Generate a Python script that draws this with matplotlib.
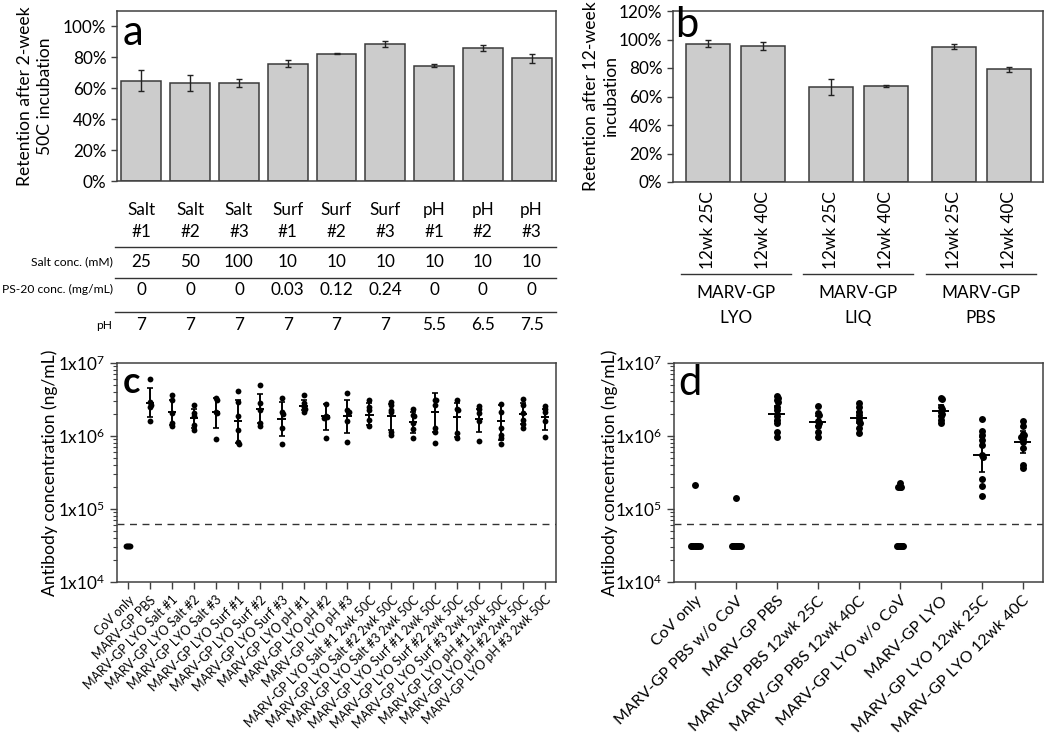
import matplotlib
matplotlib.use("Agg")
import matplotlib.pyplot as plt
import matplotlib.transforms as mtrans
import numpy as np

plt.rcParams['font.family'] = ['Lato', 'DejaVu Sans']
plt.rcParams['mathtext.fontset'] = 'custom'
plt.rcParams['mathtext.rm'] = 'Lato'
plt.rcParams['mathtext.it'] = 'Lato:italic'
plt.rcParams['axes.edgecolor'] = '#404040'
plt.rcParams['axes.linewidth'] = 1.1

# ---------------- panel a data ----------------
a_names = ["Salt", "Salt", "Salt", "Surf", "Surf", "Surf", "pH", "pH", "pH"]
a_nums = ["#1", "#2", "#3", "#1", "#2", "#3", "#1", "#2", "#3"]
a_ret = [65, 63.5, 63.5, 76, 82.5, 88.5, 74.5, 86, 79.5]
a_err = [7, 5, 2.5, 2.5, 0.5, 2, 1, 2, 3]
a_rows = ["Salt conc. (mM)", "PS-20 conc. (mg/mL)", "pH"]
a_salt = ["25", "50", "100", "10", "10", "10", "10", "10", "10"]
a_ps20 = ["0", "0", "0", "0.03", "0.12", "0.24", "0", "0", "0"]
a_ph = ["7", "7", "7", "7", "7", "7", "5.5", "6.5", "7.5"]

# ---------------- panel b data ----------------
b_labels = ["12wk 25C", "12wk 40C", "12wk 25C", "12wk 40C", "12wk 25C", "12wk 40C"]
b_ret = [97, 95.5, 66.5, 67.5, 95, 79]
b_err = [2.5, 3, 5.5, 0.5, 1.5, 2]
b_groups = ["LYO", "LIQ", "PBS"]

# ---------------- panel c data (ng/mL) ----------------
c_labels = ["CoV only", "MARV-GP PBS",
            "MARV-GP LYO Salt #1", "MARV-GP LYO Salt #2", "MARV-GP LYO Salt #3",
            "MARV-GP LYO Surf #1", "MARV-GP LYO Surf #2", "MARV-GP LYO Surf #3",
            "MARV-GP LYO pH #1", "MARV-GP LYO pH #2", "MARV-GP LYO pH #3",
            "MARV-GP LYO Salt #1 2wk 50C", "MARV-GP LYO Salt #2 2wk 50C", "MARV-GP LYO Salt #3 2wk 50C",
            "MARV-GP LYO Surf #1 2wk 50C", "MARV-GP LYO Surf #2 2wk 50C", "MARV-GP LYO Surf #3 2wk 50C",
            "MARV-GP LYO pH #1 2wk 50C", "MARV-GP LYO pH #2 2wk 50C", "MARV-GP LYO pH #3 2wk 50C"]
c_points = [
    [31250, 31250, 31250, 31250, 31250],
    [6.0e6, 2.9e6, 2.7e6, 2.5e6, 1.6e6],
    [3.6e6, 3.1e6, 2.05e6, 1.5e6, 1.35e6],
    [2.7e6, 2.05e6, 1.85e6, 1.4e6, 1.2e6],
    [3.3e6, 3.1e6, 2.1e6, 2.05e6, 9.0e5],
    [4.2e6, 2.95e6, 1.85e6, 1.2e6, 8.3e5, 7.8e5],
    [5.0e6, 2.8e6, 2.3e6, 1.5e6, 1.38e6],
    [3.3e6, 2.15e6, 2.0e6, 1.3e6, 7.8e5],
    [3.7e6, 2.8e6, 2.5e6, 2.35e6, 2.1e6],
    [2.75e6, 1.85e6, 1.8e6, 1.75e6, 9.3e5],
    [3.9e6, 2.25e6, 2.1e6, 1.6e6, 8.3e5],
    [3.15e6, 2.5e6, 2.3e6, 1.65e6, 1.38e6],
    [2.95e6, 2.7e6, 2.3e6, 2.1e6, 1.15e6, 1.02e6],
    [2.35e6, 1.95e6, 1.85e6, 1.5e6, 1.23e6, 9.5e5],
    [3.15e6, 3.1e6, 2.7e6, 1.3e6, 1.15e6, 7.9e5],
    [3.15e6, 2.35e6, 2.25e6, 1.1e6, 9.3e5],
    [2.55e6, 2.35e6, 2.05e6, 1.6e6, 8.5e5],
    [2.75e6, 2.1e6, 1.3e6, 1.02e6, 9.3e5, 7.8e5],
    [3.2e6, 2.7e6, 2.05e6, 1.65e6, 1.45e6, 1.3e6],
    [2.55e6, 2.35e6, 2.1e6, 1.6e6, 9.8e5],
]
c_mean = [31250, 2.8e6, 2.1e6, 1.75e6, 2.1e6, 1.6e6, 2.35e6, 1.7e6, 2.6e6, 1.85e6,
          1.85e6, 1.95e6, 1.9e6, 1.55e6, 2.1e6, 1.8e6, 1.7e6, 1.6e6, 2.0e6, 1.8e6]
c_hi = [np.nan, 4.5e6, 3.15e6, 2.35e6, 3.3e6, 3.15e6, 3.8e6, 2.9e6, 3.1e6, 2.75e6,
        3.15e6, 2.8e6, 2.75e6, 2.1e6, 3.9e6, 2.8e6, 2.35e6, 2.7e6, 2.8e6, 2.35e6]
c_lo = [np.nan, 1.8e6, 1.4e6, 1.3e6, 1.3e6, 8.1e5, 1.5e6, 1.0e6, 2.25e6, 1.2e6,
        1.1e6, 1.4e6, 1.2e6, 1.1e6, 1.15e6, 9.8e5, 1.12e6, 8.9e5, 1.48e6, 1.2e6]

# ---------------- panel d data (ng/mL) ----------------
d_labels = ["CoV only", "MARV-GP PBS w/o CoV", "MARV-GP PBS", "MARV-GP PBS 12wk 25C",
            "MARV-GP PBS 12wk 40C", "MARV-GP LYO w/o CoV", "MARV-GP LYO",
            "MARV-GP LYO 12wk 25C", "MARV-GP LYO 12wk 40C"]
d_points = [
    [31250] * 8 + [2.1e5],
    [31250] * 8 + [1.4e5],
    [3.55e6, 3.3e6, 3.1e6, 2.9e6, 2.5e6, 2.25e6, 1.85e6, 1.65e6, 1.5e6, 1.15e6, 9.8e5],
    [2.6e6, 2.05e6, 1.95e6, 1.6e6, 1.5e6, 1.35e6, 1.15e6, 9.8e5],
    [2.8e6, 2.5e6, 2.15e6, 1.95e6, 1.75e6, 1.6e6, 1.5e6, 1.3e6, 1.1e6],
    [31250] * 6 + [2.0e5, 2.0e5, 2.0e5, 2.3e5],
    [3.3e6, 3.2e6, 2.5e6, 2.35e6, 2.15e6, 2.0e6, 1.85e6, 1.65e6, 1.5e6],
    [1.7e6, 1.17e6, 1.02e6, 8.7e5, 7.6e5, 5.5e5, 5.2e5, 2.6e5, 2.05e5, 1.5e5],
    [1.6e6, 1.38e6, 1.05e6, 1.02e6, 9.8e5, 9.0e5, 8.3e5, 6.8e5, 4.0e5, 3.6e5],
]
d_mean = [np.nan, np.nan, 2.0e6, 1.55e6, 1.78e6, np.nan, 2.2e6, 5.5e5, 8.3e5]
d_hi = [np.nan, np.nan, 2.55e6, 1.85e6, 2.1e6, np.nan, 2.7e6, 9.8e5, 1.17e6]
d_lo = [np.nan, np.nan, 1.6e6, 1.38e6, 1.5e6, np.nan, 1.85e6, 3.2e5, 5.9e5]

lod = 62500


def swarm(vals, dx, dy):
    logs = np.log10(vals)
    offs = np.zeros(len(vals))
    placed = []
    for i in np.argsort(-logs, kind='stable'):
        for k in range(60):
            c = ((k + 1) // 2) * dx * (1 if k % 2 == 1 else -1)
            if not any(abs(logs[i] - logs[j]) < dy and abs(c - offs[j]) < dx / 2 for j in placed):
                break
        offs[i] = c
        placed.append(i)
    return offs


fig = plt.figure(figsize=(10.5, 7.37), dpi=100)
W, H = 1050, 737


def add_ax(x0, y0, x1, y1):
    return fig.add_axes([x0 / W, 1 - y1 / H, (x1 - x0) / W, (y1 - y0) / H])


fs = 12.3
lab_fs = 12.6
bar_kw = dict(color='#cccccc', edgecolor='#3a3a3a', linewidth=1.1,
              error_kw=dict(ecolor='#222222', elinewidth=1.0, capsize=2.2, capthick=1.0))

# ---------------- panel a ----------------
axa = add_ax(117, 11, 556, 181)
xa = np.arange(len(a_ret))
axa.bar(xa, a_ret, width=0.82, yerr=a_err, **bar_kw)
axa.set_xlim(-0.5, len(a_ret) - 0.5)
axa.set_ylim(0, 110)
axa.set_yticks(range(0, 101, 20))
axa.set_yticklabels([f"{v}%" for v in range(0, 101, 20)], fontsize=fs)
axa.set_xticks([])
axa.tick_params(axis='y', length=4, width=1, color='#404040')
axa.set_ylabel("Retention after 2-week\n50C incubation", fontsize=lab_fs, linespacing=1.35)
axa.yaxis.set_label_coords(-0.145, 0.5)
axa.text(0.012, 0.985, "a", transform=axa.transAxes, fontsize=30, va='top', ha='left')
tra = mtrans.blended_transform_factory(axa.transData, axa.transAxes)
for i in xa:
    axa.text(i, -0.17, a_names[i], transform=tra, ha='center', va='center', fontsize=fs)
    axa.text(i, -0.30, a_nums[i], transform=tra, ha='center', va='center', fontsize=fs)
    axa.text(i, -0.476, a_salt[i], transform=tra, ha='center', va='center', fontsize=fs)
    axa.text(i, -0.641, a_ps20[i], transform=tra, ha='center', va='center', fontsize=fs)
    axa.text(i, -0.85, a_ph[i], transform=tra, ha='center', va='center', fontsize=fs)
for yl in [-0.388, -0.571, -0.771]:
    axa.plot([-0.005, 1.0], [yl, yl], transform=axa.transAxes, color='#333333', lw=1.0, clip_on=False)
for yr, name in zip([-0.476, -0.641, -0.85], a_rows):
    axa.text(-0.01, yr, name, transform=axa.transAxes, ha='right', va='center', fontsize=8.7)

# ---------------- panel b ----------------
axb = add_ax(673, 11, 1043, 182)
xb = np.array([0, 1, 2.22, 3.22, 4.45, 5.45])
axb.bar(xb, b_ret, width=0.8, yerr=b_err, **bar_kw)
axb.set_xlim(-0.64, 6.07)
axb.set_ylim(0, 120)
axb.set_yticks(range(0, 121, 20))
axb.set_yticklabels([f"{v}%" for v in range(0, 121, 20)], fontsize=fs)
axb.set_xticks(xb)
axb.set_xticklabels(b_labels, rotation=90, fontsize=fs)
axb.tick_params(axis='x', length=0, pad=7)
axb.tick_params(axis='y', length=4, width=1, color='#404040')
axb.set_ylabel("Retention after 12-week\nincubation", fontsize=lab_fs, linespacing=1.35)
axb.yaxis.set_label_coords(-0.145, 0.5)
axb.text(0.005, 1.03, "b", transform=axb.transAxes, fontsize=30, va='top', ha='left')
trb = mtrans.blended_transform_factory(axb.transData, axb.transAxes)
for g in range(3):
    cx = (xb[2 * g] + xb[2 * g + 1]) / 2
    axb.plot([cx - 1.0, cx + 1.0], [-0.538, -0.538], transform=trb, color='#333333', lw=1.0, clip_on=False)
    axb.text(cx, -0.652, "MARV-GP", transform=trb, ha='center', va='center', fontsize=fs)
    axb.text(cx, -0.797, b_groups[g], transform=trb, ha='center', va='center', fontsize=fs)


def dot_panel(ax, labels, points, mean, lo, hi, dx, ms, mw, cap, lfs):
    x = np.arange(len(labels))
    for i in x:
        offs = swarm(points[i], dx, 0.035)
        ax.plot(i + offs, points[i], 'o', color='black', ms=ms, mew=0, zorder=3)
        if not np.isnan(mean[i]):
            ax.hlines(mean[i], i - mw, i + mw, color='black', lw=1.4, zorder=4)
        if not np.isnan(hi[i]):
            ax.errorbar(i, mean[i], yerr=[[mean[i] - lo[i]], [hi[i] - mean[i]]], fmt='none',
                        ecolor='black', elinewidth=1.4, capsize=cap, capthick=1.2, zorder=4)
    ax.axhline(lod, color='#333333', lw=1.0, ls=(0, (5, 4)), zorder=1)
    ax.set_yscale('log')
    ax.set_ylim(1e4, 1e7)
    ax.set_xlim(-0.5, len(labels) - 0.5)
    ax.set_yticks([1e4, 1e5, 1e6, 1e7])
    ax.set_yticklabels([r'1x10$^{%d}$' % k for k in (4, 5, 6, 7)], fontsize=fs)
    ax.set_xticks(x)
    ax.set_xticklabels(labels, rotation=45, ha='right', rotation_mode='anchor', fontsize=lfs)
    ax.tick_params(axis='both', which='major', length=5, width=1, color='#404040')
    ax.tick_params(axis='y', which='minor', length=3, width=0.8, color='#404040')
    ax.set_ylabel("Antibody concentration (ng/mL)", fontsize=lab_fs)


# ---------------- panel c ----------------
axc = add_ax(117, 363, 556, 582)
dot_panel(axc, c_labels, c_points, c_mean, c_lo, c_hi, dx=0.05, ms=4.2, mw=0.19, cap=2.2, lfs=9)
axc.yaxis.set_label_coords(-0.134, 0.5)
axc.text(0.012, 0.985, "c", transform=axc.transAxes, fontsize=26, fontweight='bold', va='top', ha='left')

# ---------------- panel d ----------------
axd = add_ax(674, 363, 1043, 582)
dot_panel(axd, d_labels, d_points, d_mean, d_lo, d_hi, dx=0.032, ms=5.0, mw=0.2, cap=2.5, lfs=11.5)
axd.yaxis.set_label_coords(-0.152, 0.5)
axd.text(0.012, 0.995, "d", transform=axd.transAxes, fontsize=30, va='top', ha='left')

fig.savefig("out.png", dpi=100)
